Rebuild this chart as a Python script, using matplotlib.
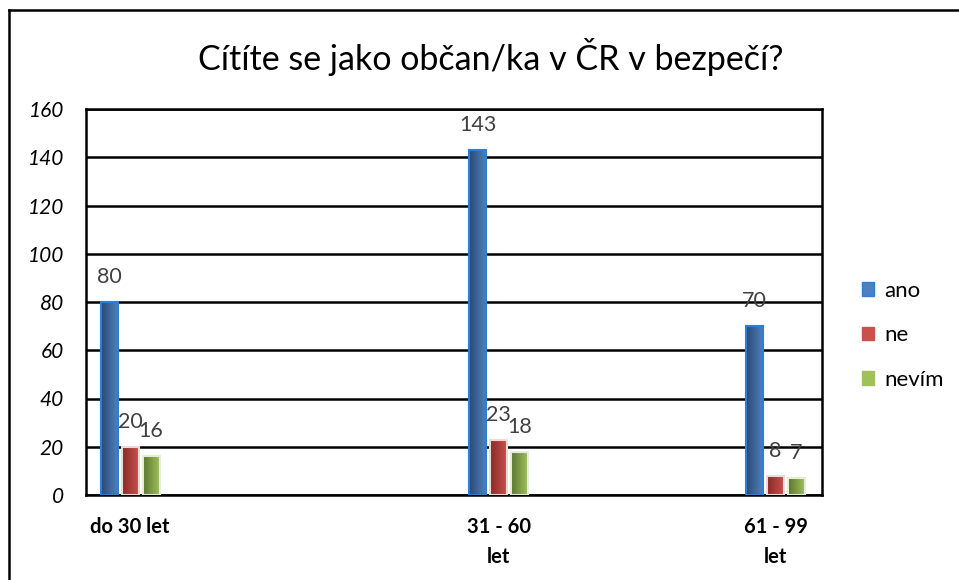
import numpy as np
import matplotlib.pyplot as plt
from matplotlib.colors import LinearSegmentedColormap
from matplotlib.patches import Patch
from matplotlib.lines import Line2D

plt.rcParams['font.family'] = ['Lato', 'DejaVu Sans']

# ---- data ----
categories = ['do 30 let', '31 - 60\nlet', '61 - 99\nlet']
series = ['ano', 'ne', 'nevím']
ano = [80, 143, 70]
ne = [20, 23, 8]
nevim = [16, 18, 7]
yticks = [0, 20, 40, 60, 80, 100, 120, 140, 160]

# ---- layout / styles ----
cat_x = [0.060, 0.561, 0.937]      # category centres in axes fraction
bar_w = 0.023
step = 0.0285
grads = [('#2b4a74', '#4d80c0'), ('#882a28', '#c9504c'), ('#5a7630', '#9fc05a')]
edges = ['#2a80d8', '#f0d8d8', '#e4eed4']

fig = plt.figure(figsize=(9.59, 5.80), dpi=100)
ax = fig.add_axes([86/959, 1 - 495/580, (822-86)/959, (495-109)/580])

grad = np.linspace(0, 1, 64).reshape(1, -1)
for k, vals in enumerate([ano, ne, nevim]):
    cmap = LinearSegmentedColormap.from_list('g%d' % k, grads[k])
    for i, v in enumerate(vals):
        x0 = cat_x[i] + (k - 1) * step - bar_w / 2
        ax.imshow(grad, extent=(x0, x0 + bar_w, 0, v), aspect='auto',
                  cmap=cmap, zorder=3, interpolation='bilinear')
        ax.add_patch(plt.Rectangle((x0, 0), bar_w, v, fill=False,
                                   edgecolor=edges[k], lw=1.5, zorder=4))
        ax.annotate(str(v), (x0 + bar_w / 2, v), xytext=(0, 18),
                    textcoords='offset points', ha='center', va='center',
                    fontsize=15.5, color='#404040', zorder=5)

ax.set_xlim(0, 1)
ax.set_ylim(0, 160)
ax.set_yticks(yticks)
ax.set_yticklabels([str(t) for t in yticks], fontstyle='italic', fontsize=15)
ax.yaxis.grid(True, color='black', lw=1.8, zorder=1)
ax.set_axisbelow(True)
ax.tick_params(axis='y', length=0, pad=16)
ax.set_xticks(cat_x)
ax.set_xticklabels(categories, fontweight='bold', fontsize=14.5, linespacing=1.6)
ax.tick_params(axis='x', length=0, pad=16)
for s in ax.spines.values():
    s.set_color('black')
    s.set_linewidth(1.8)

handles = [Patch(facecolor=grads[k][1], edgecolor=edges[k] if k == 0 else grads[k][1])
           for k in range(3)]
fig.legend(handles, series, loc='upper left', bbox_to_anchor=(842/959, 1 - 261/580),
           frameon=False, fontsize=16, handlelength=0.55, handleheight=0.55,
           handletextpad=0.45, labelspacing=1.1)

fig.text(0.512, 1 - 57/580, 'Cítíte se jako občan/ka v ČR v bezpečí?',
         ha='center', va='center', fontsize=24.5)

# outer frame (left and top only)
fig.add_artist(Line2D([9/959, 9/959], [0, 1 - 10/580], color='black', lw=1.8))
fig.add_artist(Line2D([9/959, 1], [1 - 10/580, 1 - 10/580], color='black', lw=1.8))

fig.savefig('out.png', dpi=100)
